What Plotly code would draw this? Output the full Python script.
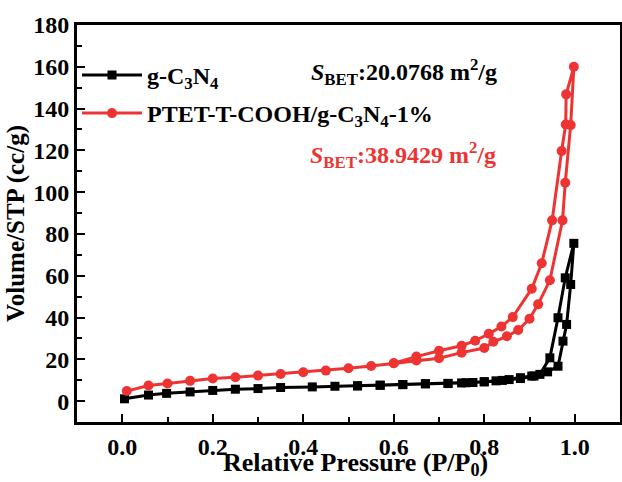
import plotly.graph_objects as go

# g-C3N4: adsorption branch then desorption branch
g_ads_x = [0.005, 0.058, 0.098, 0.15, 0.20, 0.25, 0.30, 0.35, 0.42, 0.47, 0.52, 0.57, 0.62, 0.67, 0.72,
           0.76, 0.80, 0.84, 0.88, 0.91, 0.94, 0.963, 0.974, 0.982, 0.991, 0.998]
g_ads_y = [1.1, 2.9, 3.7, 4.4, 5.1, 5.7, 6.0, 6.5, 6.8, 7.1, 7.3, 7.6, 7.9, 8.3, 8.4,
           8.8, 9.2, 9.9, 10.8, 12.0, 14.0, 16.7, 28.7, 36.7, 55.8, 75.5]
g_des_x = [0.979, 0.963, 0.945, 0.923, 0.905, 0.88, 0.855, 0.826, 0.80, 0.775, 0.75, 0.72, 0.67, 0.62, 0.57, 0.52]
g_des_y = [59.0, 39.9, 20.7, 12.8, 12.0, 11.2, 10.3, 9.7, 9.3, 8.9, 8.7, 8.5, 8.3, 7.9, 7.6, 7.3]

# PTET-T-COOH/g-C3N4-1%
p_ads_x = [0.010, 0.058, 0.10, 0.15, 0.20, 0.25, 0.30, 0.35, 0.40, 0.45, 0.50, 0.55, 0.60, 0.65, 0.70,
           0.75, 0.80, 0.82, 0.85, 0.875, 0.90, 0.919, 0.945, 0.973, 0.979, 0.991, 0.998]
p_ads_y = [4.8, 7.5, 8.4, 9.7, 10.8, 11.4, 12.2, 13.0, 13.8, 14.6, 15.7, 16.8, 18.1, 19.4, 20.5,
           23.2, 25.4, 28.4, 31.0, 34.0, 39.4, 46.3, 57.8, 86.5, 104.5, 132.1, 160.0]
p_des_x = [0.981, 0.980, 0.971, 0.95, 0.927, 0.905, 0.863, 0.838, 0.81, 0.78, 0.75, 0.70, 0.65, 0.60]
p_des_y = [146.8, 132.4, 119.7, 86.5, 66.0, 53.8, 40.2, 35.7, 32.2, 28.9, 26.5, 24.1, 21.3, 18.1]

x_ticks = [0.0, 0.2, 0.4, 0.6, 0.8, 1.0]
y_ticks = [0, 20, 40, 60, 80, 100, 120, 140, 160, 180]

BLACK = "#000000"
RED = "#EE3333"
FONT = "Liberation Serif"

fig = go.Figure()
fig.add_trace(go.Scatter(
    x=g_ads_x + g_des_x, y=g_ads_y + g_des_y, mode="lines+markers",
    name="g-C<sub>3</sub>N<sub>4</sub>",
    line=dict(color=BLACK, width=3),
    marker=dict(symbol="square", size=9, color=BLACK),
))
fig.add_trace(go.Scatter(
    x=p_ads_x + p_des_x, y=p_ads_y + p_des_y, mode="lines+markers",
    name="PTET-T-COOH/g-C<sub>3</sub>N<sub>4</sub>-1%",
    line=dict(color=RED, width=3),
    marker=dict(symbol="circle", size=10, color=RED),
))

fig.add_annotation(
    text="<i>S</i><sub>BET</sub>:20.0768 m<sup>2</sup>/g",
    xref="paper", yref="paper", x=0.428, y=0.882, xanchor="left", yanchor="middle",
    showarrow=False, font=dict(family=FONT, size=24, color=BLACK, weight="bold"),
)
fig.add_annotation(
    text="<i>S</i><sub>BET</sub>:38.9429 m<sup>2</sup>/g",
    xref="paper", yref="paper", x=0.425, y=0.672, xanchor="left", yanchor="middle",
    showarrow=False, font=dict(family=FONT, size=24, color=RED, weight="bold"),
)
# x-axis title
fig.add_annotation(
    text="Relative Pressure (P/P<sub>0</sub>)",
    xref="paper", yref="paper", x=0.512, y=-0.107, xanchor="center", yanchor="middle",
    showarrow=False, font=dict(family=FONT, size=26, color=BLACK, weight="bold"),
)

axis_common = dict(
    showline=True, linecolor="black", linewidth=3, mirror=True,
    ticks="inside", ticklen=8, tickwidth=2, tickcolor="black",
    showgrid=False, zeroline=False, automargin=False,
    tickfont=dict(family=FONT, size=24, color="black", weight="bold"),
)

fig.update_layout(
    width=622, height=482,
    margin=dict(l=77, r=2, t=25, b=60),
    paper_bgcolor="white", plot_bgcolor="white",
    font=dict(family=FONT, size=24, color="black", weight="bold"),
    showlegend=True,
    legend=dict(
        x=0.0, y=0.93, xanchor="left", yanchor="top",
        bgcolor="rgba(0,0,0,0)", borderwidth=0,
        itemwidth=60, tracegroupgap=4,
        font=dict(family=FONT, size=24, weight="bold"),
    ),
    xaxis=dict(
        range=[-0.1, 1.1], tickvals=x_ticks, ticktext=[f"{v:.1f}" for v in x_ticks],
        ticklabelstandoff=1,
        minor=dict(dtick=0.1, ticks="inside", ticklen=5, tickwidth=2, tickcolor="black"),
        **axis_common,
    ),
    yaxis=dict(
        range=[-10, 180], tickvals=y_ticks,
        minor=dict(dtick=10, ticks="inside", ticklen=5, tickwidth=2, tickcolor="black"),
        title=dict(text="Volume/STP (cc/g)", standoff=2,
                   font=dict(family=FONT, size=25, color="black", weight="bold")),
        **axis_common,
    ),
)
fig.for_each_trace(lambda t: t.update(legendgroup=t.name))

fig.write_html("out.html")
